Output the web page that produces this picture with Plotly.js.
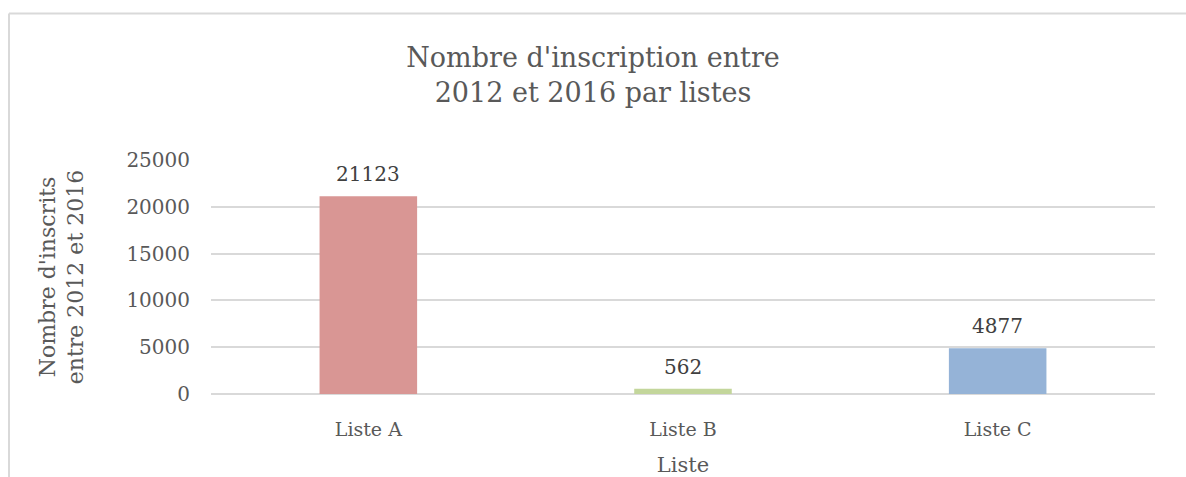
<!DOCTYPE html>
<html>
<head>
<meta charset="utf-8">
<script src="https://cdn.plot.ly/plotly-3.0.1.min.js"></script>
<style>html,body{margin:0;padding:0;background:#fff;}#chart{width:1186px;height:477px;}</style>
</head>
<body>
<div id="chart"></div>
<script>
const categories = ["Liste A", "Liste B", "Liste C"];
const values = [21123, 562, 4877];
const barColors = ["#D99694", "#C3D69B", "#95B3D7"];
const yTicks = [0, 5000, 10000, 15000, 20000, 25000];

const W = 1186, H = 477;
const m = {l: 211, r: 31, t: 160, b: 83};
const pw = W - m.l - m.r, ph = H - m.t - m.b;
const px = x => (x - m.l) / pw;
const py = y => (H - m.b - y) / ph;

const serif = "DejaVu Serif, serif";

const trace = {
  type: "bar",
  x: categories,
  y: values,
  marker: {color: barColors},
  hoverinfo: "none"
};

const annotations = categories.map((c, i) => ({
  x: c, y: values[i], xref: "x", yref: "y",
  text: String(values[i]), showarrow: false,
  yanchor: "bottom", yshift: 8,
  font: {family: serif, size: 20, color: "#404040"}
}));

const layout = {
  width: W, height: H,
  margin: m,
  paper_bgcolor: "#ffffff",
  plot_bgcolor: "#ffffff",
  showlegend: false,
  bargap: 0.69,
  title: {
    text: "Nombre d'inscription entre<br>2012 et 2016 par listes",
    font: {family: serif, size: 27, color: "#595959", lineposition: "none"},
    x: 0.5, xanchor: "center",
    yref: "container",
    y: 0.86, yanchor: "top"
  },
  xaxis: {
    type: "category",
    tickfont: {family: serif, size: 19, color: "#595959"},
    ticklabelstandoff: 22,
    showgrid: false, showline: false, ticks: "",
    title: {text: "Liste", font: {family: serif, size: 21, color: "#595959"}, standoff: 18}
  },
  yaxis: {
    range: [0, 25000],
    tickvals: yTicks,
    ticktext: yTicks.map(String),
    tickfont: {family: serif, size: 20, color: "#595959"},
    ticklabelstandoff: 20,
    showgrid: true, gridcolor: "#d9d9d9", gridwidth: 2,
    zeroline: true, zerolinecolor: "#d9d9d9", zerolinewidth: 2,
    showline: false, ticks: "", ticklen: 0,
    title: {text: "Nombre d'inscrits<br>entre 2012 et 2016", font: {family: serif, size: 22, color: "#595959"}, standoff: 36}
  },
  annotations: annotations,
  shapes: [
    {type: "line", xref: "paper", yref: "paper", x0: px(9), x1: px(1190), y0: py(13.5), y1: py(13.5), line: {color: "#d9d9d9", width: 2}},
    {type: "line", xref: "paper", yref: "paper", x0: px(9), x1: px(9), y0: py(13.5), y1: py(480), line: {color: "#d9d9d9", width: 2}}
  ]
};

Plotly.newPlot("chart", [trace], layout, {displayModeBar: false, staticPlot: true});
</script>
</body>
</html>
